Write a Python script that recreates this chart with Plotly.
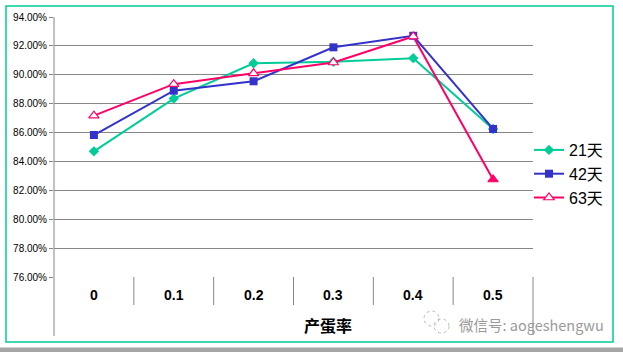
import plotly.graph_objects as go

categories = ["0", "0.1", "0.2", "0.3", "0.4", "0.5"]
series_names = ["21天", "42天", "63天"]
s21 = [84.70, 88.35, 90.80, 90.90, 91.15, 86.25]
s42 = [85.83, 88.90, 89.55, 91.90, 92.70, 86.25]
s63 = [87.17, 89.35, 90.10, 90.85, 92.65, 82.75]
y_ticks = [76, 78, 80, 82, 84, 86, 88, 90, 92, 94]
x_title = "产蛋率"
watermark = "微信号: aogeshengwu"

W, H = 623, 352
L, R, T, B = 54, 533, 17, 277  # plot area pixels


def px(x):
    return (x - L) / (R - L)


def py(y):
    return (B - y) / (B - T)


GREEN = "#00CC99"
BLUE = "#3333CC"
PINK = "#FF0066"
GRID = "#868686"

xs = list(range(len(categories)))

fig = go.Figure()
fig.add_trace(go.Scatter(
    x=xs, y=s21, name=series_names[0], mode="lines+markers", legendgroup="a",
    line=dict(color=GREEN, width=2),
    marker=dict(symbol="diamond", size=8, color=GREEN)))
fig.add_trace(go.Scatter(
    x=xs, y=s42, name=series_names[1], mode="lines+markers", legendgroup="b",
    line=dict(color=BLUE, width=2),
    marker=dict(symbol="square", size=8, color=BLUE)))
fig.add_trace(go.Scatter(
    x=xs, y=s63, name=series_names[2], mode="lines+markers", legendgroup="c",
    line=dict(color=PINK, width=2),
    marker=dict(symbol="triangle-up", size=9,
                color=["white"] * (len(s63) - 1) + [PINK],
                line=dict(color=PINK, width=1.2))))

shapes = []
# outer green border
shapes.append(dict(type="rect", xref="paper", yref="paper",
                   x0=px(6), x1=px(613), y0=py(342), y1=py(6),
                   line=dict(color=GREEN, width=1.5), layer="below"))
# bottom gray band
shapes.append(dict(type="rect", xref="paper", yref="paper",
                   x0=px(0), x1=px(623), y0=py(352), y1=py(347.5),
                   fillcolor="#A6A6A6", line=dict(width=0), layer="below"))
# left axis line extended
shapes.append(dict(type="line", xref="paper", yref="paper",
                   x0=0, x1=0, y0=py(336), y1=py(T),
                   line=dict(color=GRID, width=1)))
# right line of category table
shapes.append(dict(type="line", xref="paper", yref="paper",
                   x0=1, x1=1, y0=py(335), y1=py(B),
                   line=dict(color=GRID, width=1)))
# category separators
n = len(categories)
for k in range(1, n):
    xp = k / n
    shapes.append(dict(type="line", xref="paper", yref="paper",
                       x0=xp, x1=xp, y0=py(305), y1=py(B),
                       line=dict(color=GRID, width=1)))
# wechat icon approximation
shapes.append(dict(type="circle", xref="paper", yref="paper",
                   x0=px(424), x1=px(439), y0=py(326), y1=py(311),
                   line=dict(color="#BBBBBB", width=1, dash="dot")))
shapes.append(dict(type="circle", xref="paper", yref="paper",
                   x0=px(434), x1=px(449), y0=py(333), y1=py(319),
                   line=dict(color="#BBBBBB", width=1, dash="dot")))

annotations = []
for i, c in enumerate(categories):
    annotations.append(dict(x=i, xref="x", y=py(295), yref="paper",
                            text="<b>%s</b>" % c, showarrow=False,
                            font=dict(family="Liberation Sans, Arial", size=14, color="black"),
                            xanchor="center", yanchor="middle"))
annotations.append(dict(x=px(328), xref="paper", y=py(325), yref="paper",
                        text="<b>%s</b>" % x_title, showarrow=False,
                        font=dict(family="Noto Sans CJK SC", size=16, color="black"),
                        xanchor="center", yanchor="middle"))
annotations.append(dict(x=px(457), xref="paper", y=py(324), yref="paper",
                        text=watermark, showarrow=False,
                        font=dict(family="Noto Sans CJK SC", size=14.5, color="#9A9A9A"),
                        xanchor="left", yanchor="middle"))

fig.update_layout(
    width=W, height=H,
    margin=dict(l=L, r=W - R, t=T, b=H - B, pad=0),
    paper_bgcolor="white", plot_bgcolor="white",
    showlegend=True,
    legend=dict(x=px(529), y=py(174), xanchor="left", yanchor="middle",
                font=dict(family="Liberation Sans, Noto Sans CJK SC", size=16, color="black"),
                tracegroupgap=0, bgcolor="rgba(0,0,0,0)", borderwidth=0,
                itemwidth=30),
    xaxis=dict(range=[-0.5, n - 0.5], showgrid=False, zeroline=False,
               showticklabels=False, ticks="", showline=False, fixedrange=True),
    yaxis=dict(range=[76, 94], tickvals=y_ticks,
               ticktext=["%.2f%%" % v for v in y_ticks],
               showgrid=True, gridcolor=GRID, gridwidth=1, zeroline=False,
               ticks="outside", ticklen=4, tickcolor=GRID, showline=False,
               tickfont=dict(family="Liberation Sans, Arial", size=10, color="black")),
    shapes=shapes, annotations=annotations,
)

fig.write_html("out.html")
